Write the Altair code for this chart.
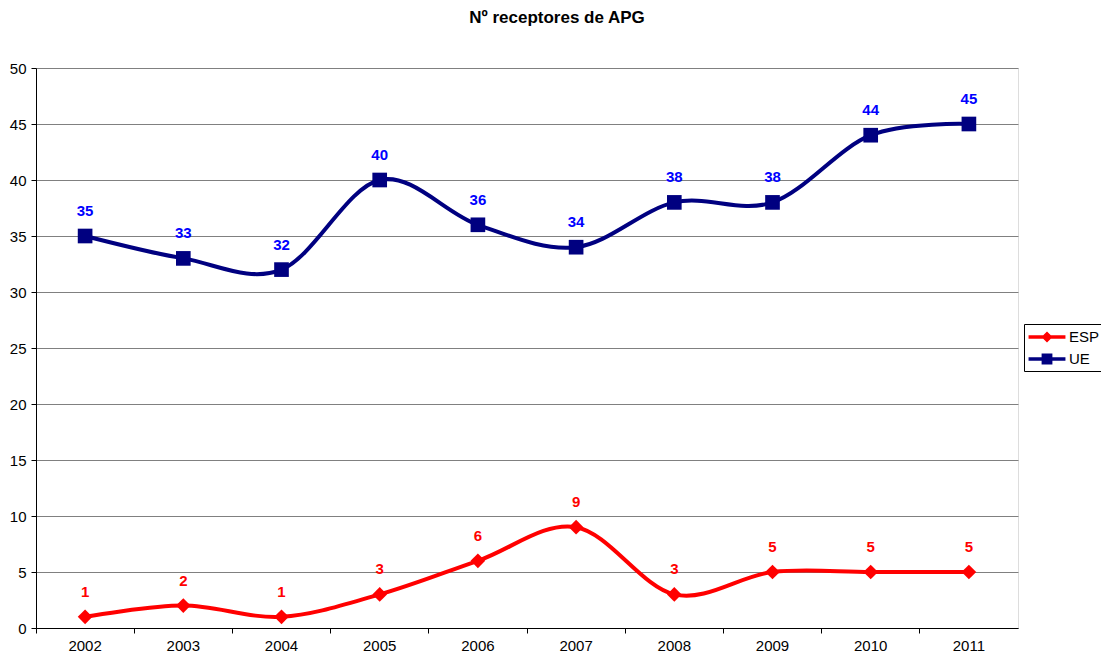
import altair as alt
import pandas as pd

years = ["2002", "2003", "2004", "2005", "2006", "2007", "2008", "2009", "2010", "2011"]
esp = [1, 2, 1, 3, 6, 9, 3, 5, 5, 5]
ue = [35, 33, 32, 40, 36, 34, 38, 38, 44, 45]
series_names = ["ESP", "UE"]
line_colors = ["#FF0000", "#000080"]
label_colors = ["#FF0000", "#0000FF"]

rows = []
for y, v in zip(years, esp):
    rows.append({"year": y, "value": v, "series": "ESP"})
for y, v in zip(years, ue):
    rows.append({"year": y, "value": v, "series": "UE"})
df = pd.DataFrame(rows)

FONT = "Liberation Sans"

x_enc = alt.X(
    "year:O",
    bandPosition=0.5,
    scale=alt.Scale(type="band", domain=years, paddingInner=0, paddingOuter=0),
    axis=alt.Axis(
        title=None, labelAngle=0, bandPosition=0, ticks=True, tickSize=5,
        tickColor="black", domainColor="black", labelFontSize=15, labelFont=FONT,
        labelColor="black", labelPadding=5, grid=False,
    ),
)
y_enc = alt.Y(
    "value:Q",
    scale=alt.Scale(domain=[0, 50], nice=False),
    axis=alt.Axis(
        title=None, values=list(range(0, 51, 5)), tickSize=5, tickColor="black",
        domainColor="black", labelFontSize=15, labelFont=FONT, labelColor="black",
        labelPadding=5, grid=True, gridColor="#808080", gridOpacity=1, gridWidth=1,
    ),
)
color_scale = alt.Scale(domain=series_names, range=line_colors)

base = alt.Chart(df)

lines = base.mark_line(interpolate="cardinal", strokeWidth=4).encode(
    x=x_enc, y=y_enc,
    color=alt.Color("series:N", scale=color_scale, legend=None),
    detail="series:N",
)

points = base.mark_point(filled=True, opacity=1, strokeWidth=0, size=215).encode(
    x=x_enc, y=y_enc,
    color=alt.Color("series:N", scale=color_scale, legend=None),
    shape=alt.Shape("series:N", scale=alt.Scale(domain=series_names, range=["diamond", "square"]), legend=None),
)

texts = base.mark_text(dy=-25, fontSize=15, fontWeight="bold", font=FONT).encode(
    x=x_enc, y=y_enc,
    text="value:Q",
    color=alt.Color("series:N", scale=alt.Scale(domain=series_names, range=label_colors), legend=None),
)

esp_path = "M-2.05,-0.2L2.05,-0.2L2.05,0.2L-2.05,0.2ZM0,-0.62L0.62,0L0,0.62L-0.62,0Z"
ue_path = "M-2.05,-0.2L2.05,-0.2L2.05,0.2L-2.05,0.2ZM-0.6,-0.6L0.6,-0.6L0.6,0.6L-0.6,0.6Z"

leg = dict(
    title=None, orient="none", legendX=988, legendY=256, strokeColor="black",
    padding=4, symbolSize=324, symbolOffset=10, labelFontSize=15, labelFont=FONT,
    labelColor="black", rowPadding=5, symbolStrokeWidth=0, labelOffset=13,
)

legend_layer = base.transform_filter("false").mark_point(filled=True, opacity=1, strokeWidth=0).encode(
    x=x_enc, y=y_enc,
    color=alt.Color("series:N", scale=color_scale, legend=alt.Legend(**leg)),
    shape=alt.Shape("series:N", scale=alt.Scale(domain=series_names, range=[esp_path, ue_path]), legend=alt.Legend(**leg)),
)

chart = (
    alt.layer(lines, points, texts, legend_layer)
    .resolve_scale(color="independent", shape="independent")
    .properties(
        width=982, height=560,
        autosize=alt.AutoSizeParams(type="none"),
        padding={"left": 28, "top": 60, "right": 83, "bottom": 25},
        title=alt.TitleParams(
            "Nº receptores de APG", fontSize=17, fontWeight="bold", font=FONT,
            color="black", anchor="middle", frame="group", offset=34, dx=30,
        ),
    )
    .configure_view(stroke="#808080", strokeWidth=1)
    .configure(background="white")
)

chart.save("out.html", embed_options={"renderer": "svg", "actions": False})
